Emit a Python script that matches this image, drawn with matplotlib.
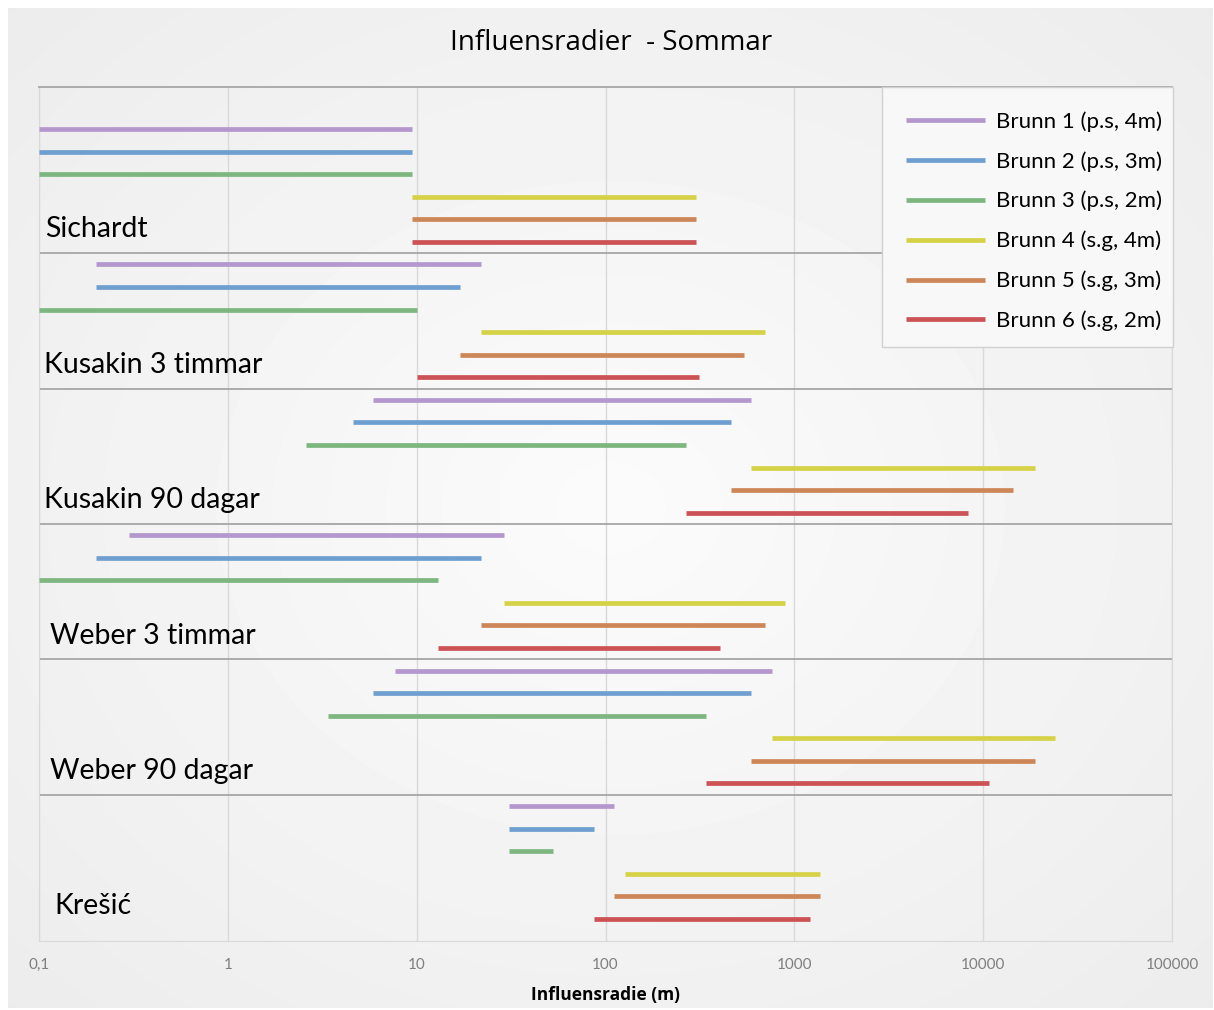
import numpy as np
import matplotlib.pyplot as plt
from matplotlib.lines import Line2D
from matplotlib.patches import Rectangle

# data: influence radius intervals (m), one row per method, one value per well
groups = ["Sichardt", "Kusakin 3 timmar", "Kusakin 90 dagar",
          "Weber 3 timmar", "Weber 90 dagar", "Krešić"]
wells = ["Brunn 1 (p.s, 4m)", "Brunn 2 (p.s, 3m)", "Brunn 3 (p.s, 2m)",
         "Brunn 4 (s.g, 4m)", "Brunn 5 (s.g, 3m)", "Brunn 6 (s.g, 2m)"]
colors = ["#b497cd", "#6f9fd0", "#7db67f", "#d6d247", "#cd8657", "#cc5256"]

sichardt_from = [0.1, 0.1, 0.1, 9.4, 9.4, 9.4]
sichardt_to = [9.4, 9.4, 9.4, 302, 302, 302]
kusakin3_from = [0.2, 0.2, 0.1, 22, 17, 10]
kusakin3_to = [22, 17, 10, 700, 540, 313]
kusakin90_from = [5.9, 4.6, 2.6, 590, 462, 267]
kusakin90_to = [590, 462, 267, 18900, 14400, 8300]
weber3_from = [0.3, 0.2, 0.1, 29, 22, 13]
weber3_to = [29, 22, 13, 890, 700, 404]
weber90_from = [7.7, 5.9, 3.4, 760, 590, 341]
weber90_to = [760, 590, 341, 24000, 18900, 10800]
kresic_from = [31, 31, 31, 127, 111, 87]
kresic_to = [111, 87, 53, 1370, 1370, 1210]

starts = [sichardt_from, kusakin3_from, kusakin90_from, weber3_from, weber90_from, kresic_from]
ends = [sichardt_to, kusakin3_to, kusakin90_to, weber3_to, weber90_to, kresic_to]

tick_vals = [0.1, 1, 10, 100, 1000, 10000, 100000]
tick_labels = ["0,1", "1", "10", "100", "1000", "10000", "100000"]

plt.rcParams['font.family'] = ['Lato', 'DejaVu Sans']

W, H = 1214, 1010
fig = plt.figure(figsize=(W / 100, H / 100), dpi=100)
fig.patch.set_facecolor('white')

# soft radial gradient panel behind the chart
bg = fig.add_axes([8 / W, 1 - 1008 / H, 1205 / W, 1000 / H])
yy, xx = np.mgrid[-1:1:300j, -1:1:360j]
rr = np.sqrt(xx ** 2 + yy ** 2) / np.sqrt(2)
bg.imshow(251 - 15 * rr, cmap='gray', vmin=0, vmax=255, aspect='auto',
          extent=[0, 1, 0, 1], interpolation='bilinear')
bg.set_axis_off()

ax = fig.add_axes([39 / W, 1 - 941 / H, 1133 / W, 854 / H])
ax.patch.set_alpha(0)
ax.set_xscale('log')
ax.set_xlim(0.1, 100000)
ax.set_ylim(35.98, -1.86)

# horizontal interval lines
label_x = [0.005, 0.004, 0.004, 0.01, 0.01, 0.014]
for g in range(len(groups)):
    for w in range(len(wells)):
        y = g * 6 + w
        ax.plot([starts[g][w], ends[g][w]], [y, y], color=colors[w], lw=3.4,
                solid_capstyle='butt', zorder=3)
    ax.text(label_x[g], g * 6 + 4.45, groups[g], fontsize=20.5,
            va='center', ha='left', transform=ax.get_yaxis_transform(), zorder=4)
    if g > 0:
        ax.axhline(g * 6 - 0.5, color='#a6a6a6', lw=1.3, zorder=2)

ax.set_xticks(tick_vals)
ax.set_xticklabels(tick_labels)
ax.minorticks_off()
ax.set_yticks([])
ax.tick_params(axis='x', length=0, pad=12, labelsize=11, labelcolor='#7f7f7f')
ax.grid(axis='x', color='#d9d9d9', lw=1)
for s in ['left', 'right', 'bottom']:
    ax.spines[s].set_color('#d9d9d9')
ax.spines['top'].set_color('#a6a6a6')
ax.spines['top'].set_linewidth(1.3)

ax.set_xlabel("Influensradie (m)", fontsize=12.5, fontweight='bold', labelpad=10,
              family=['Open Sans', 'DejaVu Sans'])
fig.text(611.5 / W, 1 - 43 / H, "Influensradier  - Sommar", fontsize=20,
         ha='center', va='center', family=['Open Sans', 'DejaVu Sans'])

# legend box drawn separately so its size matches the original
ax.add_patch(Rectangle(((882 - 39) / 1133, (941 - 347) / 854), 291 / 1133, 260 / 854,
                       transform=ax.transAxes, facecolor='#f8f8f8', edgecolor='#d0d0d0',
                       lw=1, zorder=4.5, clip_on=False))
handles = [Line2D([], [], color=c, lw=3.4, solid_capstyle='butt') for c in colors]
leg = ax.legend(handles, wells, loc='upper left',
                bbox_to_anchor=((906 - 39) / 1133, (941 - 111) / 854),
                borderaxespad=0, fontsize=16, handlelength=3.55, handletextpad=0.5,
                labelspacing=0.87, borderpad=0, frameon=False)
leg.set_zorder(5)

fig.savefig('out.png', dpi=100)
